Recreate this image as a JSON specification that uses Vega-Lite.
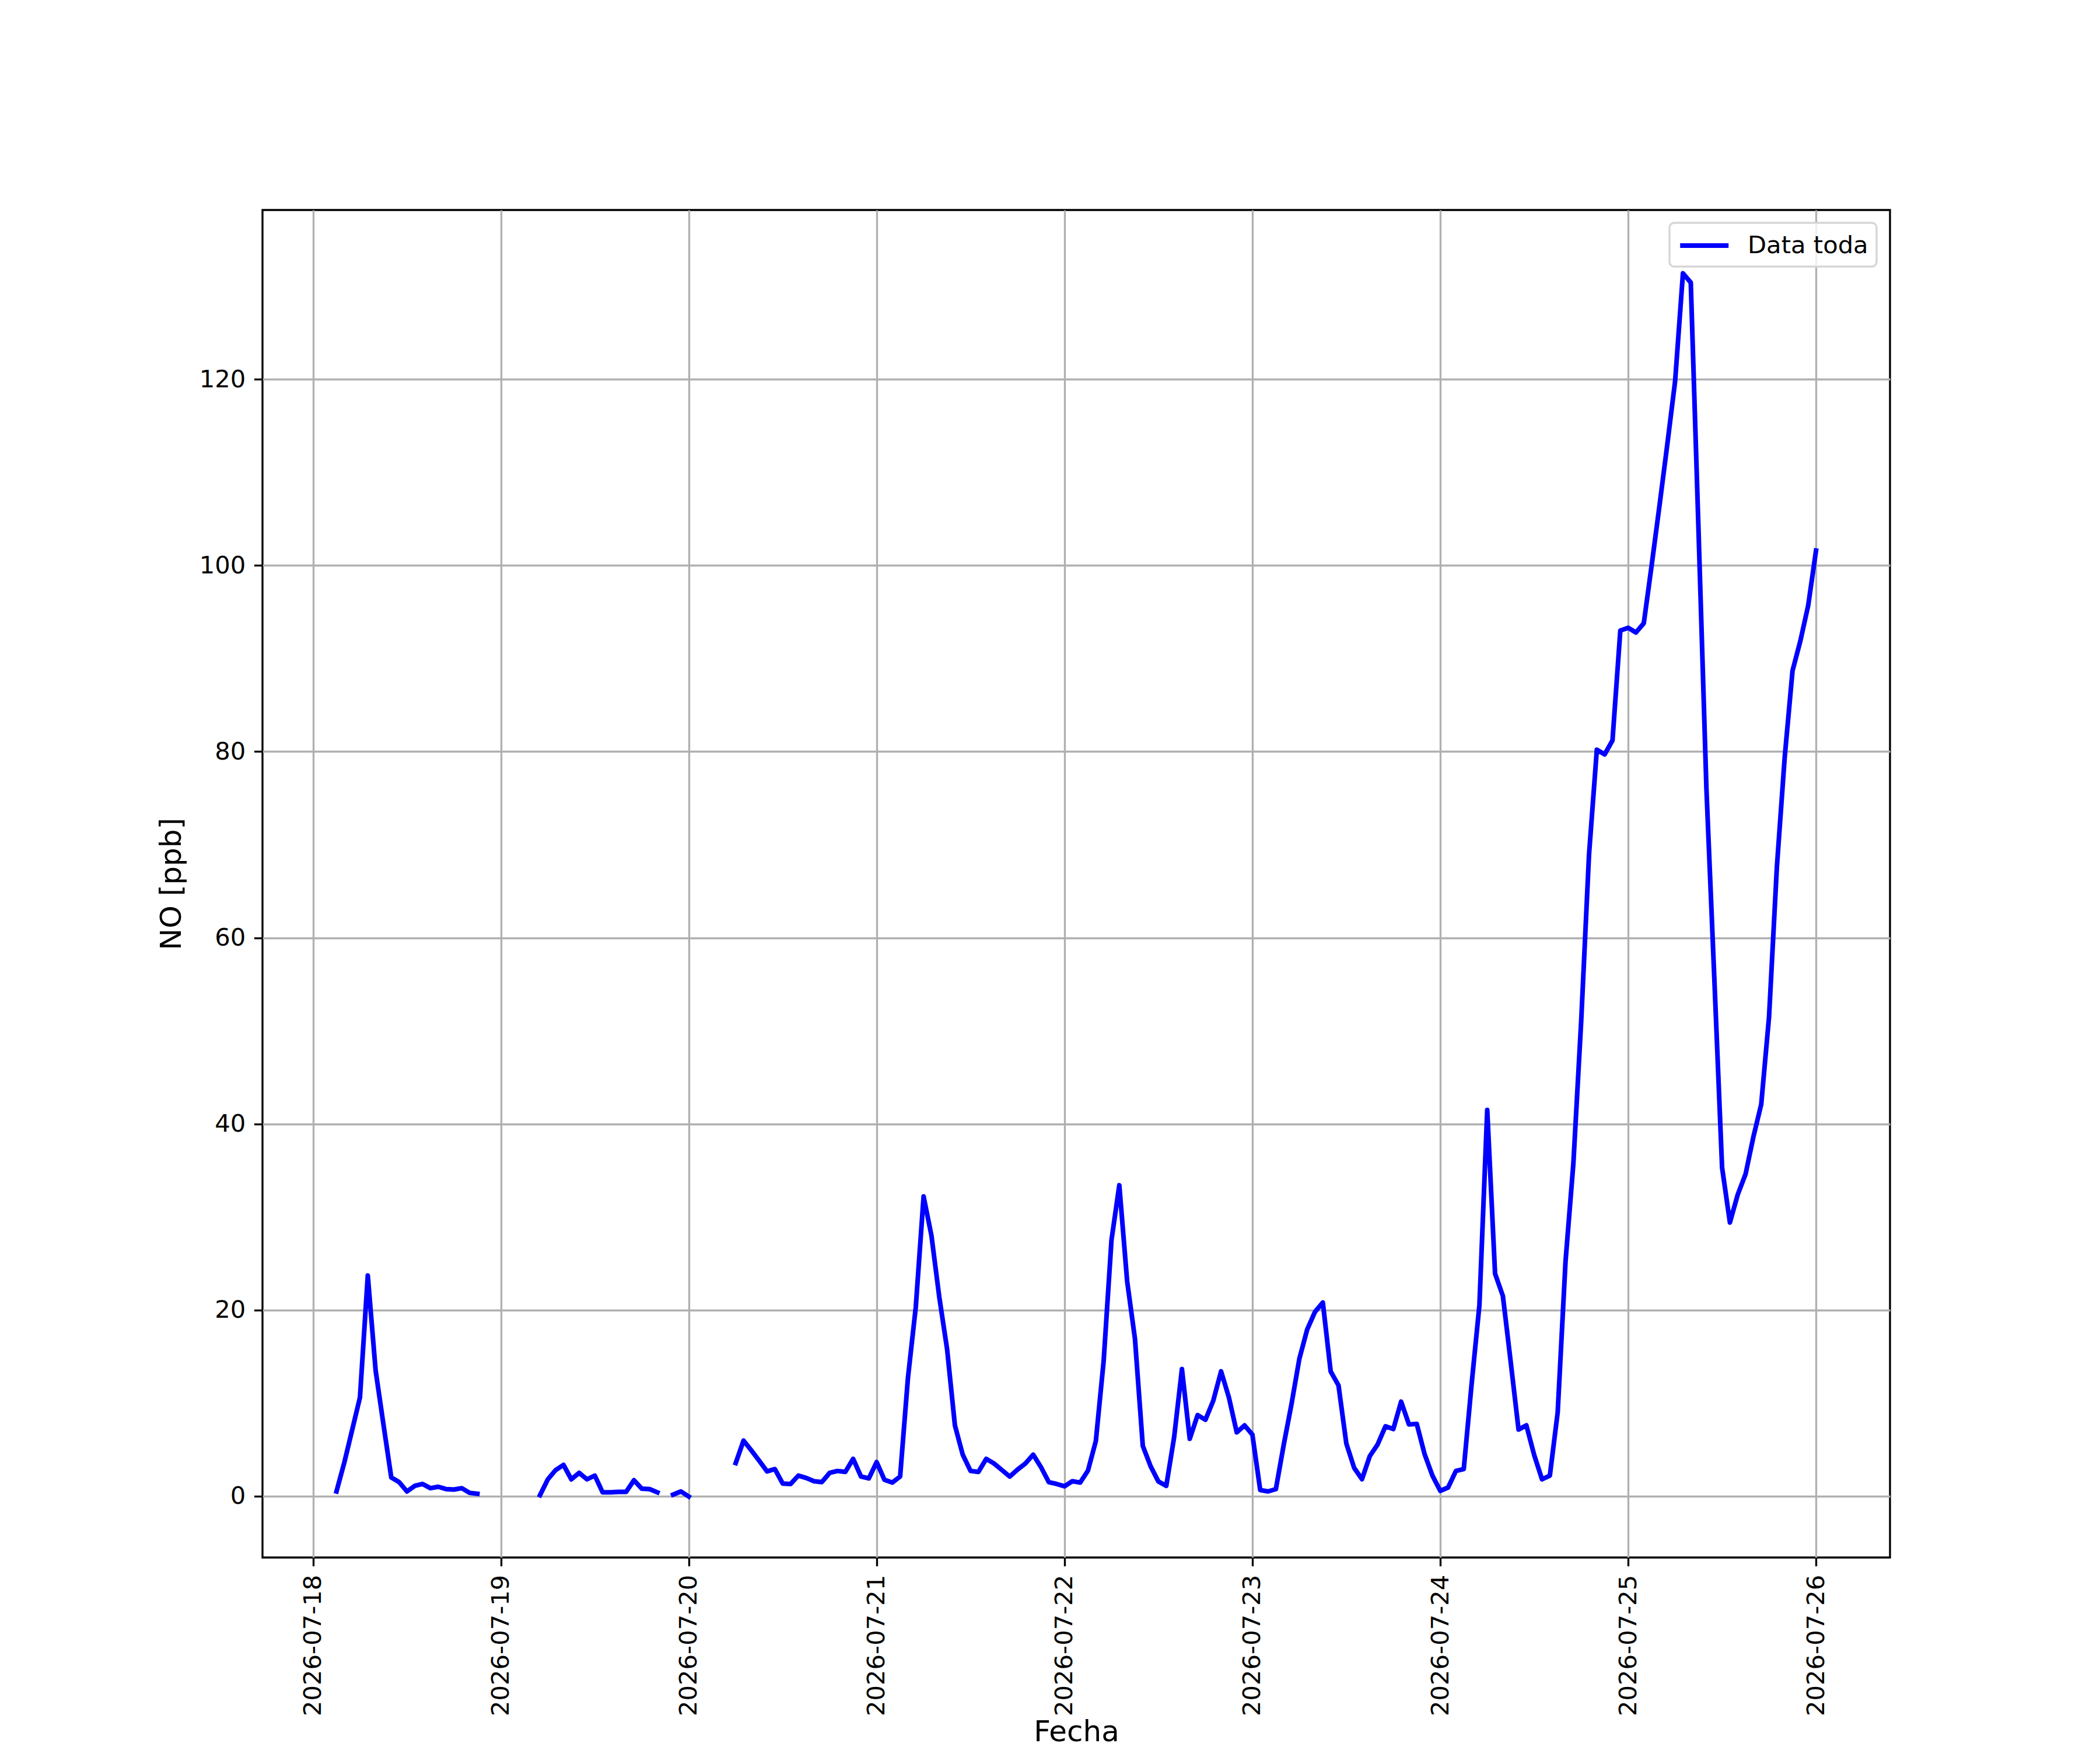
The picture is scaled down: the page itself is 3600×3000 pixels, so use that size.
{
  "$schema": "https://vega.github.io/schema/vega-lite/v6.json",
  "width": 2790,
  "height": 2310,
  "autosize": "none",
  "padding": {"left": 450, "top": 360, "right": 360, "bottom": 330},
  "background": "white",
  "data": {
    "values": [
      {"t": "2026-07-18T03:00", "no": 0.5}, {"t": "2026-07-18T04:00", "no": 3.6}, {"t": "2026-07-18T05:00", "no": 7.1},
      {"t": "2026-07-18T06:00", "no": 10.6}, {"t": "2026-07-18T07:00", "no": 23.7}, {"t": "2026-07-18T08:00", "no": 13.5},
      {"t": "2026-07-18T09:00", "no": 7.7}, {"t": "2026-07-18T10:00", "no": 2.0}, {"t": "2026-07-18T11:00", "no": 1.5},
      {"t": "2026-07-18T12:00", "no": 0.5}, {"t": "2026-07-18T13:00", "no": 1.1}, {"t": "2026-07-18T14:00", "no": 1.3},
      {"t": "2026-07-18T15:00", "no": 0.85}, {"t": "2026-07-18T16:00", "no": 1.0}, {"t": "2026-07-18T17:00", "no": 0.75},
      {"t": "2026-07-18T18:00", "no": 0.7}, {"t": "2026-07-18T19:00", "no": 0.85}, {"t": "2026-07-18T20:00", "no": 0.35},
      {"t": "2026-07-18T21:00", "no": 0.25}, {"t": "2026-07-18T22:00", "no": null}, {"t": "2026-07-18T23:00", "no": null},
      {"t": "2026-07-19T00:00", "no": null}, {"t": "2026-07-19T01:00", "no": null}, {"t": "2026-07-19T02:00", "no": null},
      {"t": "2026-07-19T03:00", "no": null}, {"t": "2026-07-19T04:00", "no": null}, {"t": "2026-07-19T05:00", "no": 0.1},
      {"t": "2026-07-19T06:00", "no": 1.8}, {"t": "2026-07-19T07:00", "no": 2.8}, {"t": "2026-07-19T08:00", "no": 3.35},
      {"t": "2026-07-19T09:00", "no": 1.8}, {"t": "2026-07-19T10:00", "no": 2.5}, {"t": "2026-07-19T11:00", "no": 1.8},
      {"t": "2026-07-19T12:00", "no": 2.2}, {"t": "2026-07-19T13:00", "no": 0.4}, {"t": "2026-07-19T14:00", "no": 0.4},
      {"t": "2026-07-19T15:00", "no": 0.45}, {"t": "2026-07-19T16:00", "no": 0.45}, {"t": "2026-07-19T17:00", "no": 1.7},
      {"t": "2026-07-19T18:00", "no": 0.8}, {"t": "2026-07-19T19:00", "no": 0.75}, {"t": "2026-07-19T20:00", "no": 0.4},
      {"t": "2026-07-19T21:00", "no": null}, {"t": "2026-07-19T22:00", "no": 0.15}, {"t": "2026-07-19T23:00", "no": 0.5},
      {"t": "2026-07-20T00:00", "no": -0.05}, {"t": "2026-07-20T01:00", "no": null}, {"t": "2026-07-20T02:00", "no": null},
      {"t": "2026-07-20T03:00", "no": null}, {"t": "2026-07-20T04:00", "no": null}, {"t": "2026-07-20T05:00", "no": null},
      {"t": "2026-07-20T06:00", "no": 3.55}, {"t": "2026-07-20T07:00", "no": 5.96}, {"t": "2026-07-20T08:00", "no": 4.9},
      {"t": "2026-07-20T09:00", "no": 3.8}, {"t": "2026-07-20T10:00", "no": 2.65}, {"t": "2026-07-20T11:00", "no": 2.9},
      {"t": "2026-07-20T12:00", "no": 1.35}, {"t": "2026-07-20T13:00", "no": 1.3}, {"t": "2026-07-20T14:00", "no": 2.2},
      {"t": "2026-07-20T15:00", "no": 1.95}, {"t": "2026-07-20T16:00", "no": 1.6}, {"t": "2026-07-20T17:00", "no": 1.5},
      {"t": "2026-07-20T18:00", "no": 2.5}, {"t": "2026-07-20T19:00", "no": 2.7}, {"t": "2026-07-20T20:00", "no": 2.6},
      {"t": "2026-07-20T21:00", "no": 4.0}, {"t": "2026-07-20T22:00", "no": 2.1}, {"t": "2026-07-20T23:00", "no": 1.9},
      {"t": "2026-07-21T00:00", "no": 3.65}, {"t": "2026-07-21T01:00", "no": 1.75}, {"t": "2026-07-21T02:00", "no": 1.45},
      {"t": "2026-07-21T03:00", "no": 2.1}, {"t": "2026-07-21T04:00", "no": 12.7}, {"t": "2026-07-21T05:00", "no": 20.3},
      {"t": "2026-07-21T06:00", "no": 32.2}, {"t": "2026-07-21T07:00", "no": 28.0}, {"t": "2026-07-21T08:00", "no": 21.4},
      {"t": "2026-07-21T09:00", "no": 15.8}, {"t": "2026-07-21T10:00", "no": 7.6}, {"t": "2026-07-21T11:00", "no": 4.45},
      {"t": "2026-07-21T12:00", "no": 2.7}, {"t": "2026-07-21T13:00", "no": 2.6}, {"t": "2026-07-21T14:00", "no": 4.0},
      {"t": "2026-07-21T15:00", "no": 3.5}, {"t": "2026-07-21T16:00", "no": 2.8}, {"t": "2026-07-21T17:00", "no": 2.1},
      {"t": "2026-07-21T18:00", "no": 2.85}, {"t": "2026-07-21T19:00", "no": 3.5}, {"t": "2026-07-21T20:00", "no": 4.45},
      {"t": "2026-07-21T21:00", "no": 3.1}, {"t": "2026-07-21T22:00", "no": 1.5}, {"t": "2026-07-21T23:00", "no": 1.3},
      {"t": "2026-07-22T00:00", "no": 1.05}, {"t": "2026-07-22T01:00", "no": 1.6}, {"t": "2026-07-22T02:00", "no": 1.45},
      {"t": "2026-07-22T03:00", "no": 2.75}, {"t": "2026-07-22T04:00", "no": 5.9}, {"t": "2026-07-22T05:00", "no": 14.5},
      {"t": "2026-07-22T06:00", "no": 27.5}, {"t": "2026-07-22T07:00", "no": 33.4}, {"t": "2026-07-22T08:00", "no": 23.1},
      {"t": "2026-07-22T09:00", "no": 16.9}, {"t": "2026-07-22T10:00", "no": 5.4}, {"t": "2026-07-22T11:00", "no": 3.2},
      {"t": "2026-07-22T12:00", "no": 1.56}, {"t": "2026-07-22T13:00", "no": 1.1}, {"t": "2026-07-22T14:00", "no": 6.3},
      {"t": "2026-07-22T15:00", "no": 13.65}, {"t": "2026-07-22T16:00", "no": 6.15}, {"t": "2026-07-22T17:00", "no": 8.7},
      {"t": "2026-07-22T18:00", "no": 8.2}, {"t": "2026-07-22T19:00", "no": 10.25}, {"t": "2026-07-22T20:00", "no": 13.4},
      {"t": "2026-07-22T21:00", "no": 10.6}, {"t": "2026-07-22T22:00", "no": 6.85}, {"t": "2026-07-22T23:00", "no": 7.6},
      {"t": "2026-07-23T00:00", "no": 6.6}, {"t": "2026-07-23T01:00", "no": 0.65}, {"t": "2026-07-23T02:00", "no": 0.5},
      {"t": "2026-07-23T03:00", "no": 0.75}, {"t": "2026-07-23T04:00", "no": 5.5}, {"t": "2026-07-23T05:00", "no": 9.9},
      {"t": "2026-07-23T06:00", "no": 14.75}, {"t": "2026-07-23T07:00", "no": 17.9}, {"t": "2026-07-23T08:00", "no": 19.8},
      {"t": "2026-07-23T09:00", "no": 20.8}, {"t": "2026-07-23T10:00", "no": 13.4}, {"t": "2026-07-23T11:00", "no": 11.9},
      {"t": "2026-07-23T12:00", "no": 5.65}, {"t": "2026-07-23T13:00", "no": 3.03}, {"t": "2026-07-23T14:00", "no": 1.82},
      {"t": "2026-07-23T15:00", "no": 4.3}, {"t": "2026-07-23T16:00", "no": 5.55}, {"t": "2026-07-23T17:00", "no": 7.5},
      {"t": "2026-07-23T18:00", "no": 7.2}, {"t": "2026-07-23T19:00", "no": 10.15}, {"t": "2026-07-23T20:00", "no": 7.7},
      {"t": "2026-07-23T21:00", "no": 7.75}, {"t": "2026-07-23T22:00", "no": 4.5}, {"t": "2026-07-23T23:00", "no": 2.2},
      {"t": "2026-07-24T00:00", "no": 0.56}, {"t": "2026-07-24T01:00", "no": 0.92}, {"t": "2026-07-24T02:00", "no": 2.7},
      {"t": "2026-07-24T03:00", "no": 2.9}, {"t": "2026-07-24T04:00", "no": 12.0}, {"t": "2026-07-24T05:00", "no": 20.5},
      {"t": "2026-07-24T06:00", "no": 41.5}, {"t": "2026-07-24T07:00", "no": 23.9}, {"t": "2026-07-24T08:00", "no": 21.5},
      {"t": "2026-07-24T09:00", "no": 14.4}, {"t": "2026-07-24T10:00", "no": 7.15}, {"t": "2026-07-24T11:00", "no": 7.6},
      {"t": "2026-07-24T12:00", "no": 4.4}, {"t": "2026-07-24T13:00", "no": 1.8}, {"t": "2026-07-24T14:00", "no": 2.2},
      {"t": "2026-07-24T15:00", "no": 9.0}, {"t": "2026-07-24T16:00", "no": 25.2}, {"t": "2026-07-24T17:00", "no": 35.7},
      {"t": "2026-07-24T18:00", "no": 51.0}, {"t": "2026-07-24T19:00", "no": 68.9}, {"t": "2026-07-24T20:00", "no": 80.2},
      {"t": "2026-07-24T21:00", "no": 79.7}, {"t": "2026-07-24T22:00", "no": 81.2}, {"t": "2026-07-24T23:00", "no": 93.0},
      {"t": "2026-07-25T00:00", "no": 93.3}, {"t": "2026-07-25T01:00", "no": 92.8}, {"t": "2026-07-25T02:00", "no": 93.8},
      {"t": "2026-07-25T03:00", "no": 100.0}, {"t": "2026-07-25T04:00", "no": 106.4}, {"t": "2026-07-25T05:00", "no": 113.0},
      {"t": "2026-07-25T06:00", "no": 119.8}, {"t": "2026-07-25T07:00", "no": 131.4}, {"t": "2026-07-25T08:00", "no": 130.4},
      {"t": "2026-07-25T09:00", "no": 103.5}, {"t": "2026-07-25T10:00", "no": 76.0}, {"t": "2026-07-25T11:00", "no": 55.8},
      {"t": "2026-07-25T12:00", "no": 35.3}, {"t": "2026-07-25T13:00", "no": 29.4}, {"t": "2026-07-25T14:00", "no": 32.4},
      {"t": "2026-07-25T15:00", "no": 34.6}, {"t": "2026-07-25T16:00", "no": 38.6}, {"t": "2026-07-25T17:00", "no": 42.1},
      {"t": "2026-07-25T18:00", "no": 51.5}, {"t": "2026-07-25T19:00", "no": 67.6}, {"t": "2026-07-25T20:00", "no": 79.4},
      {"t": "2026-07-25T21:00", "no": 88.7}, {"t": "2026-07-25T22:00", "no": 91.9}, {"t": "2026-07-25T23:00", "no": 95.7},
      {"t": "2026-07-26T00:00", "no": 101.6}
    ]
  },
  "mark": {"type": "line", "strokeWidth": 8, "invalid": "break-paths-show-domains", "strokeCap": "square", "strokeJoin": "round"},
  "encoding": {
    "x": {
      "field": "t",
      "type": "temporal",
      "title": "Fecha",
      "scale": {
        "domain": [
          {"year": 2026, "month": 7, "date": 17, "hours": 17, "minutes": 33},
          {"year": 2026, "month": 7, "date": 26, "hours": 9, "minutes": 27}
        ]
      },
      "axis": {
        "format": "%Y-%m-%d",
        "tickCount": {"interval": "day", "step": 1},
        "labelAngle": 270,
        "labelAlign": "right",
        "labelBaseline": "middle",
        "labelFlush": false,
        "labelOverlap": false,
        "labelLimit": 1000,
        "titleY": 299,
        "titleBaseline": "middle"
      }
    },
    "y": {
      "field": "no",
      "type": "quantitative",
      "title": "NO [ppb]",
      "scale": {"domain": [-6.6, 138.2], "nice": false, "zero": false},
      "axis": {"values": [0, 20, 40, 60, 80, 100, 120], "titlePadding": 22}
    },
    "color": {
      "datum": "Data toda",
      "type": "nominal",
      "scale": {"range": ["#0000ff"]},
      "legend": {
        "title": null,
        "orient": "none",
        "legendX": 2412,
        "legendY": 22,
        "symbolType": "M-1,0H3",
        "symbolSize": 1722,
        "symbolStrokeWidth": 8,
        "labelOffset": 70,
        "labelFontSize": 41.7,
        "labelLimit": 1000,
        "labelColor": "black",
        "padding": 14,
        "fillColor": "rgba(255,255,255,0.8)",
        "strokeColor": "#d6d6d6",
        "cornerRadius": 8
      }
    }
  },
  "config": {
    "font": "DejaVu Sans",
    "view": {"stroke": "black", "strokeWidth": 3.33},
    "axis": {
      "domain": false,
      "grid": true,
      "gridColor": "#b0b0b0",
      "gridWidth": 3.33,
      "tickColor": "black",
      "tickSize": 14.6,
      "tickWidth": 3.33,
      "labelPadding": 14.6,
      "labelFontSize": 41.7,
      "labelColor": "black",
      "titleFontSize": 50,
      "titleFontWeight": "normal",
      "titleColor": "black"
    },
    "legend": {"strokeWidth": 3.33, "labelFont": "DejaVu Sans"}
  }
}
